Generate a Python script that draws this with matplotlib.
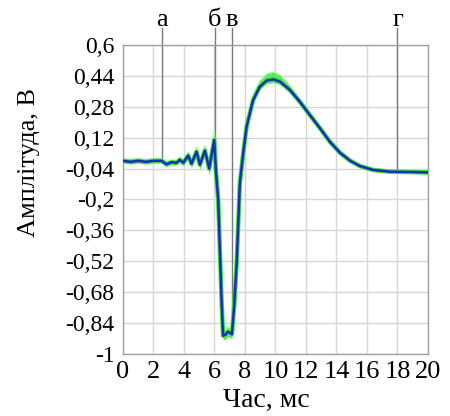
import numpy as np
import matplotlib
matplotlib.use('Agg')
import matplotlib.pyplot as plt

# time, ms
t = [0, 0.5, 1.0, 1.5, 2.0, 2.54, 2.86, 3.19, 3.52, 3.74, 3.96, 4.28, 4.5, 4.83, 5.05,
     5.38, 5.66, 5.99, 6.1, 6.25, 6.47, 6.57, 6.72, 6.89, 7.02, 7.15, 7.3, 7.46, 7.67,
     7.89, 8.11, 8.54, 8.98, 9.42, 9.86, 10.3, 10.95, 11.6, 12.26, 12.92, 13.57, 14.23,
     14.89, 15.54, 16.4, 17.5, 18.0, 19.0, 20.0]
# mean signal (blue)
amp = [0.0, -0.005, 0.0, -0.005, 0.0, 0.0, -0.018, -0.007, -0.01, 0.005, -0.01, 0.027, -0.015,
       0.047, -0.02, 0.053, -0.04, 0.108, -0.05, -0.2, -0.72, -0.905, -0.9, -0.885, -0.89,
       -0.897, -0.75, -0.53, -0.116, 0.04, 0.177, 0.315, 0.384, 0.415, 0.422, 0.41, 0.367,
       0.306, 0.237, 0.169, 0.099, 0.042, 0.001, -0.027, -0.047, -0.056, -0.057, -0.058, -0.06]
# individual records (green), envelope
amp_hi = [0.012, 0.007, 0.012, 0.007, 0.012, 0.012, -0.005, 0.005, 0.003, 0.02, 0.003, 0.045, 0.0,
          0.07, -0.008, 0.08, -0.028, 0.16, -0.035, -0.19, -0.71, -0.89, -0.875, -0.86, -0.87,
          -0.88, -0.735, -0.515, -0.10, 0.06, 0.2, 0.34, 0.415, 0.45, 0.46, 0.445, 0.39, 0.32,
          0.25, 0.18, 0.11, 0.052, 0.01, -0.02, -0.04, -0.05, -0.051, -0.052, -0.054]
amp_lo = [-0.012, -0.017, -0.012, -0.017, -0.012, -0.012, -0.03, -0.02, -0.022, -0.008, -0.025,
          0.012, -0.035, 0.03, -0.045, 0.035, -0.075, 0.085, -0.07, -0.21, -0.73, -0.925, -0.925,
          -0.91, -0.915, -0.92, -0.765, -0.545, -0.13, 0.025, 0.16, 0.3, 0.37, 0.4, 0.405, 0.395,
          0.352, 0.292, 0.225, 0.158, 0.09, 0.033, -0.008, -0.035, -0.055, -0.064, -0.065, -0.066,
          -0.068]

yticks = [0.6, 0.44, 0.28, 0.12, -0.04, -0.2, -0.36, -0.52, -0.68, -0.84, -1]
ytick_labels = ['0,6', '0,44', '0,28', '0,12', '-0,04', '-0,2', '-0,36', '-0,52', '-0,68', '-0,84', '-1']
xticks = list(range(0, 21, 2))

marks = ['а', 'б', 'в', 'г']
mark_x = [2.54, 6.03, 7.13, 18.0]

plt.rcParams['font.family'] = ['Liberation Serif', 'DejaVu Serif']

fig = plt.figure(figsize=(4.5, 4.16), dpi=100)
ax = fig.add_axes([0.273, 0.149, 0.678, 0.743])

ax.fill_between(t, amp_lo, amp_hi, color='#55ec55', lw=0, zorder=2)
ax.plot(t, amp_hi, color='#a6f4a6', lw=0.9, zorder=2)
ax.plot(t, amp, color='#33e433', lw=3.2, zorder=3)
ax.plot(t, amp, color='#1a2bc0', lw=1.8, zorder=4)

for lab, xm in zip(marks, mark_x):
    yend = np.interp(xm, t, amp)
    ax.plot([xm, xm], [0.688, yend], color='#7a7a7a', lw=1.0, clip_on=False, zorder=1)
    ax.text(xm, 0.70, lab, ha='center', va='baseline', fontsize=19)

ax.set_xlim(0, 20)
ax.set_ylim(-1, 0.6)
ax.set_xticks(xticks)
ax.set_xticklabels([str(v) for v in xticks])
ax.set_yticks(yticks)
ax.set_yticklabels(ytick_labels)
ax.tick_params(axis='both', length=0)
ax.tick_params(axis='y', labelsize=17, pad=6)
ax.tick_params(axis='x', labelsize=19, pad=5)
ax.grid(True, color='#d6d6d6', lw=1.0)
ax.set_axisbelow(True)
for s in ax.spines.values():
    s.set_color('#a0a0a0')
    s.set_linewidth(1.0)

ax.set_xlabel('Час, мс', fontsize=20)
ax.xaxis.set_label_coords(0.47, -0.11)
ax.set_ylabel('Амплітуда, В', fontsize=19)
ax.yaxis.set_label_coords(-0.27, 0.62)

fig.savefig('out.png', dpi=100)
